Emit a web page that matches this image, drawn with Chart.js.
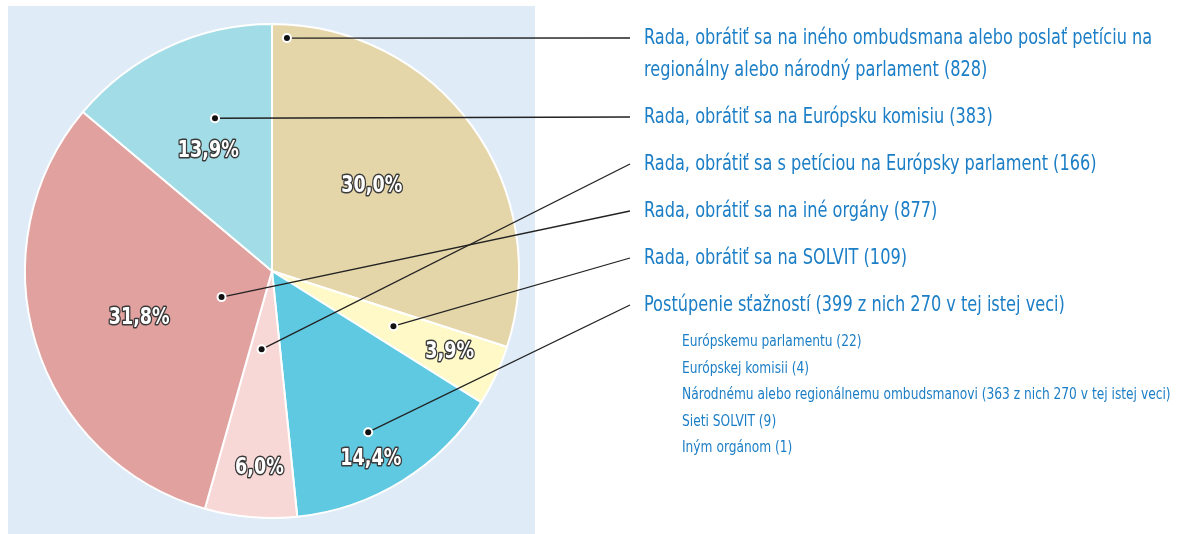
<!DOCTYPE html>
<html>
<head>
<meta charset="utf-8">
<script src="https://cdn.jsdelivr.net/npm/chart.js@4"></script>
<style>
  html, body { margin: 0; padding: 0; background: #fff; }
  #wrap { width: 1186px; height: 534px; position: relative; }
</style>
</head>
<body>
<div id="wrap"><canvas id="chart"></canvas></div>
<script>
// slices, clockwise from 12 o'clock
const sliceLabels = [
  "Rada, obrátiť sa na iného ombudsmana alebo poslať petíciu na regionálny alebo národný parlament",
  "Rada, obrátiť sa na SOLVIT",
  "Postúpenie sťažností",
  "Rada, obrátiť sa s petíciou na Európsky parlament",
  "Rada, obrátiť sa na iné orgány",
  "Rada, obrátiť sa na Európsku komisiu"
];
const sliceCounts = [828, 109, 399, 166, 877, 383];
const sliceNotes = ["", "", " z nich 270 v tej istej veci", "", "", ""];
// order of the labels on the right (indexes into the slice arrays)
const legendOrder = [0, 5, 3, 4, 1, 2];

const subLabels = [
  "Európskemu parlamentu",
  "Európskej komisii",
  "Národnému alebo regionálnemu ombudsmanovi",
  "Sieti SOLVIT",
  "Iným orgánom"
];
const subCounts = [22, 4, 363, 9, 1];
const subNotes = ["", "", " z nich 270 v tej istej veci", "", ""];

const sliceColors = ["#e5d6aa", "#fef9c7", "#5fc9e1", "#f8d8d6", "#e0a19f", "#a2dce6"];

// where the marker dot and the % label sit inside each slice (fraction of angle, fraction of radius)
const dotPos = [[0.034, 0.945], [0.46, 0.54], [0.52, 0.76], [0.62, 0.32], [0.41, 0.23], [0.59, 0.66]];
const pctPos = [[0.46, 0.53], [0.46, 0.79], [0.58, 0.86], [0.44, 0.80], [0.48, 0.57], [0.44, 0.55]];

const TEXT_BLUE = "#1b7ec6";
const NARROW = '"Liberation Sans Narrow", "DejaVu Sans Condensed", sans-serif';
const MAIN_SX = 0.816, SUB_SX = 0.85, PCT_SX = 0.85;

const total = sliceCounts.reduce((a, b) => a + b, 0);

function polar(arc, pos) {
  const a = arc.startAngle + pos[0] * (arc.endAngle - arc.startAngle);
  const r = pos[1] * arc.outerRadius;
  return { x: arc.x + Math.cos(a) * r, y: arc.y + Math.sin(a) * r };
}

// text squeezed horizontally (the original uses a condensed face)
function squeezed(ctx, txt, x, y, sx, stroke) {
  ctx.save();
  ctx.translate(x, y);
  ctx.scale(sx, 1);
  if (stroke) ctx.strokeText(txt, 0, 0);
  ctx.fillText(txt, 0, 0);
  ctx.restore();
}

function wrap(ctx, text, maxW, sx) {
  const words = text.split(" ");
  const lines = [];
  let cur = "";
  words.forEach(w => {
    const t = cur ? cur + " " + w : w;
    if (ctx.measureText(t).width * sx > maxW && cur) { lines.push(cur); cur = w; }
    else cur = t;
  });
  lines.push(cur);
  return lines;
}

const panel = {
  id: "panel",
  beforeDraw(chart) {
    const ctx = chart.ctx;
    ctx.save();
    ctx.fillStyle = "#dfebf7";
    ctx.fillRect(8, 6, 527, 528);
    ctx.restore();
  },
  afterDraw(chart) {
    const ctx = chart.ctx;
    const arcs = chart.getDatasetMeta(0).data;
    ctx.save();

    // labels on the right + leader lines
    ctx.font = "22px " + NARROW;
    ctx.textBaseline = "middle";
    ctx.textAlign = "left";
    let y = 38;
    const textX = 644, lineEndX = 630;
    legendOrder.forEach(i => {
      const text = sliceLabels[i] + " (" + sliceCounts[i] + sliceNotes[i] + ")";
      const lines = wrap(ctx, text, 520, MAIN_SX);
      ctx.fillStyle = TEXT_BLUE;
      lines.forEach((l, k) => squeezed(ctx, l, textX, y + k * 32, MAIN_SX));
      const d = polar(arcs[i], dotPos[i]);
      ctx.strokeStyle = "#222";
      ctx.lineWidth = 1.3;
      ctx.beginPath();
      ctx.moveTo(d.x, d.y);
      ctx.lineTo(lineEndX, y);
      ctx.stroke();
      y += (lines.length - 1) * 32 + 47;
    });

    // sub items of the last entry
    ctx.font = "16px " + NARROW;
    ctx.fillStyle = TEXT_BLUE;
    let sy = 342;
    subLabels.forEach((s, k) => {
      squeezed(ctx, s + " (" + subCounts[k] + subNotes[k] + ")", 682, sy, SUB_SX);
      sy += 26.5;
    });

    // percentages
    ctx.font = "bold 23px " + NARROW;
    ctx.textAlign = "center";
    ctx.lineJoin = "round";
    arcs.forEach((arc, i) => {
      const p = polar(arc, pctPos[i]);
      const txt = (sliceCounts[i] / total * 100).toFixed(1).replace(".", ",") + "%";
      ctx.strokeStyle = "#3a3a3a";
      ctx.lineWidth = 3;
      ctx.fillStyle = "#fff";
      squeezed(ctx, txt, p.x, p.y, PCT_SX, true);
    });

    // marker dots
    arcs.forEach((arc, i) => {
      const d = polar(arc, dotPos[i]);
      ctx.fillStyle = "#fff";
      ctx.beginPath(); ctx.arc(d.x, d.y, 5, 0, Math.PI * 2); ctx.fill();
      ctx.fillStyle = "#111";
      ctx.beginPath(); ctx.arc(d.x, d.y, 3, 0, Math.PI * 2); ctx.fill();
    });
    ctx.restore();
  }
};

new Chart(document.getElementById("chart"), {
  type: "pie",
  data: {
    labels: sliceLabels,
    datasets: [{
      data: sliceCounts,
      backgroundColor: sliceColors,
      borderColor: "#ffffff",
      borderWidth: 2
    }]
  },
  options: {
    responsive: true,
    maintainAspectRatio: false,
    animation: false,
    layout: { padding: { left: 24, right: 666, top: 23, bottom: 15 } },
    plugins: { legend: { display: false }, tooltip: { enabled: false } }
  },
  plugins: [panel]
});
</script>
</body>
</html>
